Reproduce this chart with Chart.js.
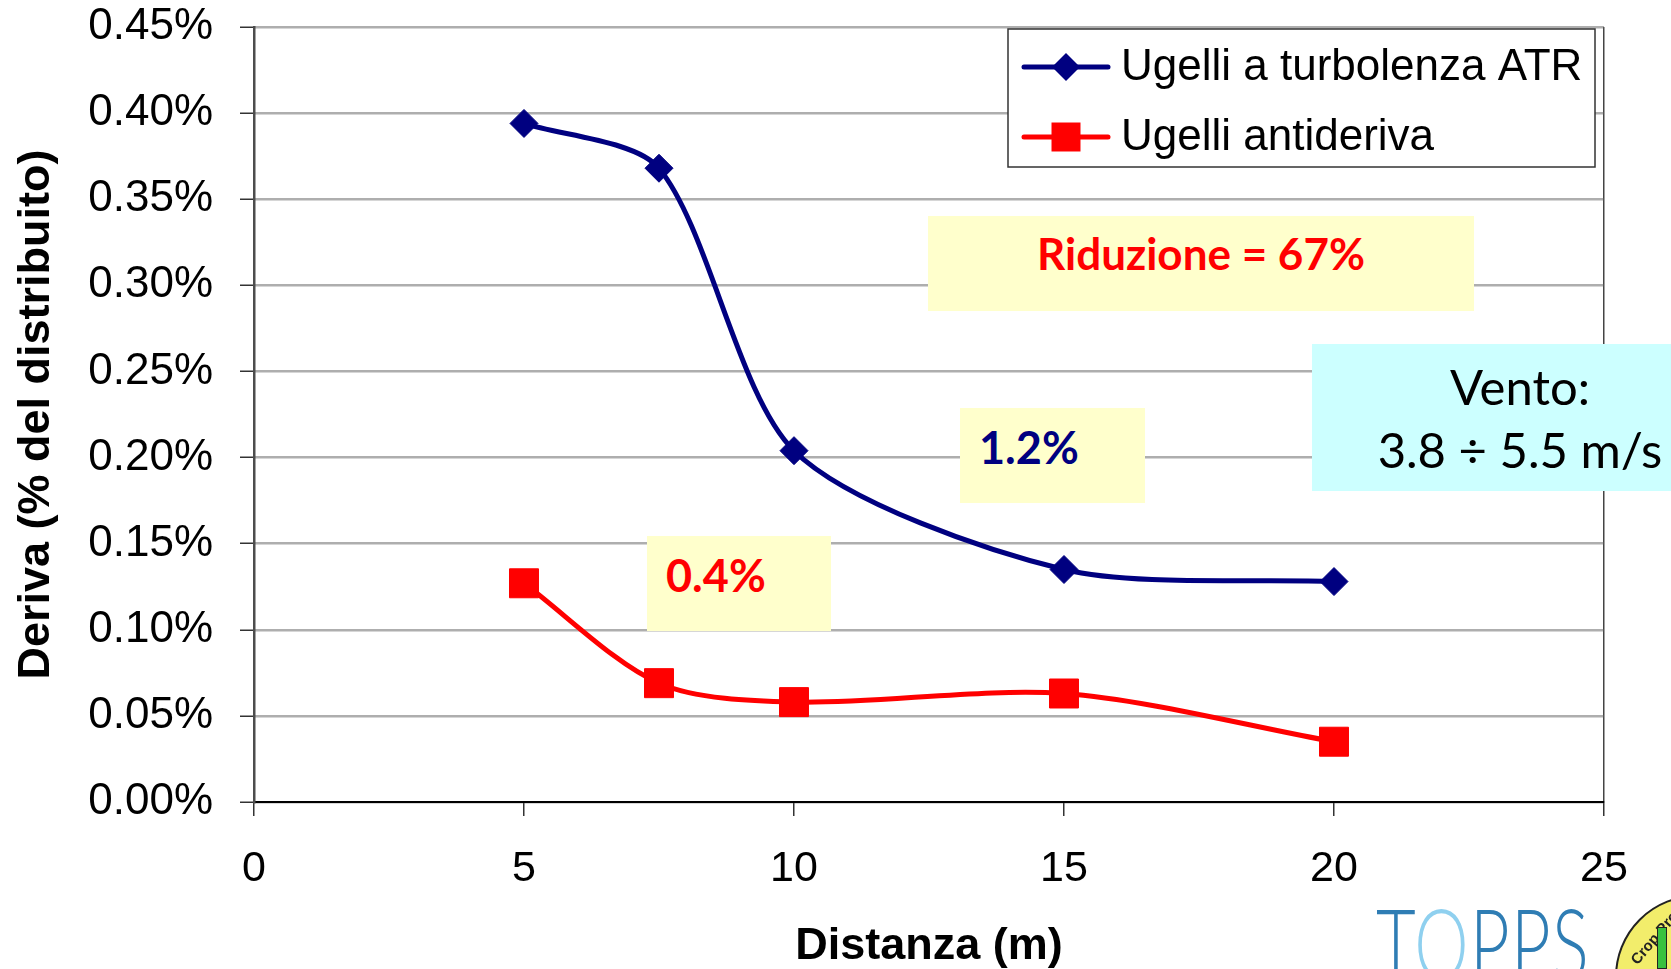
<!DOCTYPE html>
<html>
<head>
<meta charset="utf-8">
<script src="https://cdn.jsdelivr.net/npm/chart.js@4.4.1/dist/chart.umd.min.js"></script>
<style>
  html, body { margin: 0; padding: 0; background: #fff; overflow: hidden; }
  #wrap { position: relative; width: 1671px; height: 969px; overflow: hidden; }
  #driftChart { position: absolute; left: 0; top: 0; }
  .note { position: absolute; box-sizing: border-box; font-family: Lato, 'Open Sans', sans-serif; line-height: 1.2; white-space: nowrap; }
  .yellow { background: #ffffcc; }
  #logo { position: absolute; left: 1376px; top: 893px; font-family: Lato, 'Noto Sans', sans-serif; font-weight: 300;
          font-size: 98px; line-height: 1; color: #2f7db4; transform: scaleX(0.7); transform-origin: left top; letter-spacing: 2px; }
  #logo span { color: #8fd0ef; }
  #seal { position: absolute; left: 1615px; top: 895px; width: 160px; height: 160px; border-radius: 50%;
          background: #f2ed6b; border: 2px solid #222; }
  #seal .txt { position: absolute; left: 4px; top: 30px; font: 700 15px 'Liberation Sans', sans-serif; transform: rotate(-50deg); color: #222; }
  #seal .bar { position: absolute; left: 40px; top: 30px; width: 8px; height: 40px; background: #39c13f; border: 1px solid #222; }
</style>
</head>
<body>
<div id="wrap">
  <canvas id="driftChart" width="1671" height="969"></canvas>
  <div class="note yellow" style="left:928px;top:216px;width:546px;height:95px;padding-top:11px;text-align:center;color:#ff0000;font-weight:700;font-size:44px;">Riduzione = 67%</div>
  <div class="note yellow" style="left:960px;top:408px;width:185px;height:95px;padding:12px 0 0 19px;color:#000080;font-weight:700;font-size:45px;">1.2%</div>
  <div class="note yellow" style="left:647px;top:536px;width:184px;height:95px;padding:12px 0 0 19px;color:#ff0000;font-weight:700;font-size:45px;">0.4%</div>
  <div class="note" style="left:1312px;top:344px;width:416px;height:147px;padding-top:11px;background:#ccffff;color:#000;font-size:49px;line-height:63px;text-align:center;">Vento:<br>3.8 ÷ 5.5 m/s</div>
  <div id="logo">T<span>O</span>PPS</div>
  <div id="seal"><div class="txt">Crop Prot</div><div class="bar"></div></div>
</div>
<script>
// --- DATA ---
const distances = [5, 7.5, 10, 15, 20];                 // Distanza (m)
const atrDrift = [0.394, 0.368, 0.204, 0.135, 0.128];   // Ugelli a turbolenza ATR (%)
const antiDrift = [0.127, 0.069, 0.058, 0.063, 0.035];  // Ugelli antideriva (%)
const seriesNames = ['Ugelli a turbolenza ATR', 'Ugelli antideriva'];
const xRange = [0, 25, 5];
const yRange = [0, 0.45, 0.05];

const toPoints = (xs, ys) => xs.map((x, i) => ({ x: x, y: ys[i] }));

// --- LEGEND IN A BOX (drawn over the plot like the original) ---
function drawMarker(ctx, style, x, y, r, color) {
    ctx.beginPath();
    if (style === 'rectRot') {
        ctx.moveTo(x - r, y); ctx.lineTo(x, y - r); ctx.lineTo(x + r, y); ctx.lineTo(x, y + r);
    } else {
        const s = Math.SQRT1_2 * r;
        ctx.rect(x - s, y - s, 2 * s, 2 * s);
    }
    ctx.closePath();
    ctx.fillStyle = color;
    ctx.fill();
}

const boxLegend = {
    id: 'boxLegend',
    afterDraw(chart) {
        const ctx = chart.ctx;
        const x0 = 1008, y0 = 29, w = 587, h = 138;
        ctx.save();
        ctx.fillStyle = '#fff';
        ctx.fillRect(x0, y0, w, h);
        ctx.strokeStyle = '#333';
        ctx.lineWidth = 1.5;
        ctx.strokeRect(x0, y0, w, h);
        chart.data.datasets.forEach((ds, i) => {
            const cy = y0 + 38 + i * 70;
            ctx.strokeStyle = ds.borderColor;
            ctx.lineWidth = ds.borderWidth;
            ctx.lineCap = 'round';
            ctx.beginPath();
            ctx.moveTo(1024, cy);
            ctx.lineTo(1108, cy);
            ctx.stroke();
            drawMarker(ctx, ds.pointStyle, 1066, cy, ds.pointRadius, ds.pointBackgroundColor);
            ctx.fillStyle = '#000';
            ctx.font = "44px 'Liberation Sans', Arial, sans-serif";
            ctx.textBaseline = 'middle';
            ctx.textAlign = 'left';
            ctx.fillText(ds.label, 1121, cy + 1);
        });
        ctx.restore();
    }
};

// --- CHART ---
Chart.defaults.font.family = "'Liberation Sans', Arial, sans-serif";
Chart.defaults.color = '#000';

new Chart(document.getElementById('driftChart'), {
    type: 'line',
    data: {
        datasets: [
            {
                label: seriesNames[0],
                data: toPoints(distances, atrDrift),
                borderColor: '#000080',
                backgroundColor: '#000080',
                pointBackgroundColor: '#000080',
                pointBorderColor: '#000080',
                borderWidth: 5,
                pointStyle: 'rectRot',
                pointRadius: 14,
                pointBorderWidth: 1,
                tension: 0.27,
                fill: false
            },
            {
                label: seriesNames[1],
                data: toPoints(distances, antiDrift),
                borderColor: '#ff0000',
                backgroundColor: '#ff0000',
                pointBackgroundColor: '#ff0000',
                pointBorderColor: '#ff0000',
                borderWidth: 5,
                pointStyle: 'rect',
                pointRadius: 20.5,
                pointBorderWidth: 1,
                tension: 0.3,
                fill: false
            }
        ]
    },
    options: {
        responsive: false,
        animation: false,
        devicePixelRatio: 1,
        layout: { padding: { left: 0, right: 67, top: 27, bottom: 0 } },
        plugins: {
            legend: { display: false },
            tooltip: { enabled: false }
        },
        scales: {
            x: {
                type: 'linear',
                min: xRange[0],
                max: xRange[1],
                afterFit: (scale) => { scale.height = 167; },
                ticks: {
                    stepSize: xRange[2],
                    padding: 27,
                    font: { size: 43 },
                    maxRotation: 0
                },
                grid: {
                    drawOnChartArea: true,
                    color: (c) => (c.tick && c.tick.value === xRange[1]) ? '#444' : 'rgba(0,0,0,0)',
                    lineWidth: 1.5,
                    tickLength: 14,
                    tickColor: '#333',
                    tickWidth: 1.5
                },
                border: { color: '#000', width: 2 },
                title: {
                    display: true,
                    text: 'Distanza (m)',
                    font: { size: 45, weight: 'bold', lineHeight: 1 },
                    padding: { top: 0, bottom: 0 }
                }
            },
            y: {
                min: yRange[0],
                max: yRange[1],
                afterFit: (scale) => {
                    scale.width = 254;
                    // the top/bottom labels may stick out: the plot edges are fixed by the layout padding
                    scale.paddingTop = 0;
                    scale.paddingBottom = 0;
                },
                ticks: {
                    stepSize: yRange[2],
                    padding: 27,
                    font: { size: 44 },
                    callback: (v) => v.toFixed(2) + '%'
                },
                grid: {
                    color: '#5e5e5e',
                    lineWidth: 2.5,
                    tickLength: 14,
                    tickColor: '#333',
                    tickWidth: 1.5
                },
                border: { color: '#4d4d4d', width: 2.5, dash: [1, 1] },
                title: {
                    display: true,
                    text: 'Deriva (% del distribuito)',
                    font: { size: 45, weight: 'bold' },
                    padding: { top: 10, bottom: 0 }
                }
            }
        }
    },
    plugins: [boxLegend]
});
</script>
</body>
</html>
